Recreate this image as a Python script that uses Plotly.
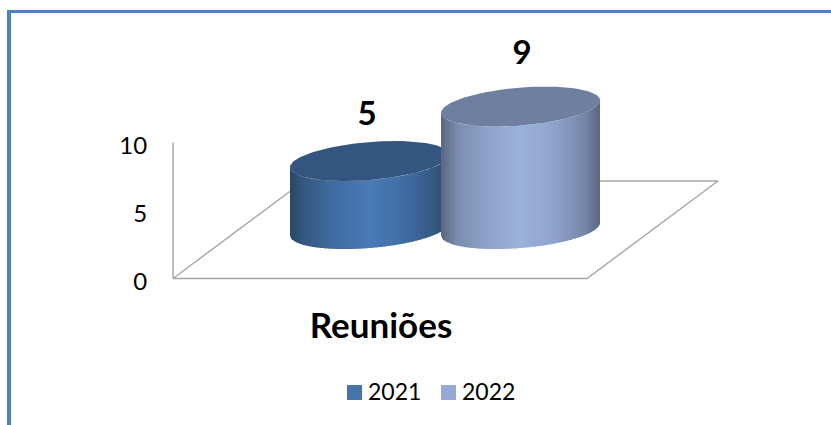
import numpy as np
import plotly.graph_objects as go

# ---- data ----
series_names = ["2021", "2022"]
series_values = [5, 9]
category = "Reuniões"
tick_values = [0, 5, 10]

# ---- styles ----
FONT = "Lato"
W, H = 831, 425
ZERO_PX = 278.5
PX_PER_UNIT = 13.6
GRID = "#A6A6A6"
swatch = ["#4674AA", "#95A9D2"]
top_col = ["#33557F", "#6F7F9F"]
stops = [
    [(0, "#2B4566"), (.08, "#345880"), (.25, "#3F6A9E"), (.5, "#4A7CB8"), (.75, "#3F6A9E"), (.92, "#345880"), (1, "#2B4566")],
    [(0, "#59667F"), (.1, "#7A8DAE"), (.3, "#8FA4CC"), (.5, "#9BB2DC"), (.72, "#8EA2CC"), (.9, "#7787A8"), (1, "#5A6780")],
]
centers = [369.5, 520.5]
A, B, K = 79.5, 19.0, 6.3
BASE_PX = 229.0


def v(px):
    return (ZERO_PX - px) / PX_PER_UNIT


def hex2rgb(h):
    return np.array([int(h[i:i + 2], 16) for i in (1, 3, 5)], float)


def grad(st, t):
    xs = [s[0] for s in st]
    cs = np.array([hex2rgb(s[1]) for s in st])
    return "rgb(%d,%d,%d)" % tuple(np.interp(t, xs, cs[:, i]) for i in range(3))


def edge(x, cx, cy_px):
    """Front (lower on screen) edge of the tilted ellipse at horizontal position x."""
    u = np.clip((x - cx) / A, -1, 1)
    return cy_px + B * np.sqrt(1 - u ** 2) - K * u


fig = go.Figure()

# floor and wall
floor_x = [173, 587, 718, 304, 173]
floor_y = [278.5, 278.5, 181, 181, 278.5]
fig.add_trace(go.Scatter(x=floor_x, y=[v(p) for p in floor_y], mode="lines",
                         line=dict(color=GRID, width=1.4), showlegend=False, hoverinfo="skip"))
fig.add_trace(go.Scatter(x=[173, 173], y=[tick_values[0], tick_values[-1]], mode="lines",
                         line=dict(color=GRID, width=1.4), showlegend=False, hoverinfo="skip"))

# cylinders
for val, cx, st, tc in zip(series_values, centers, stops, top_col):
    top_px = BASE_PX - val * PX_PER_UNIT
    for x0 in np.arange(cx - A, cx + A, 2.0):
        x1 = min(x0 + 3.0, cx + A)
        xs = np.linspace(x0, x1, 4)
        upper = edge(xs, cx, top_px)
        lower = edge(xs, cx, BASE_PX)
        px = np.r_[xs, xs[::-1]]
        py = np.r_[upper, lower[::-1]]
        fig.add_trace(go.Scatter(x=px, y=v(py), mode="lines", fill="toself",
                                 fillcolor=grad(st, (x0 + 1 - cx + A) / (2 * A)),
                                 line=dict(width=0), showlegend=False, hoverinfo="skip"))
    t = np.linspace(0, 2 * np.pi, 121)
    ex = cx + A * np.cos(t)
    ey = top_px + B * np.sin(t) - K * np.cos(t)
    fig.add_trace(go.Scatter(x=ex, y=v(ey), mode="lines", fill="toself", fillcolor=tc,
                             line=dict(width=0), showlegend=False, hoverinfo="skip"))

# data labels
label_x = [367, 522]
label_gap = [44, 50.6]
for val, lx, gap in zip(series_values, label_x, label_gap):
    top_px = BASE_PX - val * PX_PER_UNIT
    fig.add_trace(go.Scatter(x=[lx], y=[v(top_px - gap)], mode="text", text=[str(val)],
                             textposition="middle center",
                             textfont=dict(family=FONT, size=33, color="#000000", weight="bold"),
                             showlegend=False, hoverinfo="skip"))

# category label
fig.add_trace(go.Scatter(x=[381], y=[v(329)], mode="text", text=[category],
                         textposition="middle center",
                         textfont=dict(family=FONT, size=35, color="#000000", weight="bold"),
                         showlegend=False, hoverinfo="skip"))

# legend entries, swatch then label
legend_x = [354.5, 448.5]
for name, c, lx in zip(series_names, swatch, legend_x):
    fig.add_trace(go.Scatter(x=[lx], y=[v(392.5)], mode="markers", name=name,
                             marker=dict(symbol="square", size=15, color=c),
                             showlegend=False, hoverinfo="skip"))
    fig.add_trace(go.Scatter(x=[lx + 13.5], y=[v(394.5)], mode="text", text=[name],
                             textposition="middle right",
                             textfont=dict(family=FONT, size=23, color="#000000"),
                             showlegend=False, hoverinfo="skip"))

fig.update_layout(
    width=W, height=H, margin=dict(l=0, r=0, t=0, b=0),
    paper_bgcolor="white", plot_bgcolor="white",
    font=dict(family=FONT, size=24, color="#000000"),
    xaxis=dict(range=[0, W], visible=False, fixedrange=True),
    yaxis=dict(range=[v(H), v(0)], showgrid=False, zeroline=False, showline=False,
               tickvals=tick_values, ticktext=[str(t) for t in tick_values],
               ticks="outside", ticklen=21, tickcolor="rgba(0,0,0,0)",
               anchor="free", position=173 / W, side="left", ticklabelshift=3,
               tickfont=dict(family=FONT, size=24, color="#000000"), fixedrange=True),
    showlegend=False,
    shapes=[
        dict(type="rect", xref="paper", yref="paper", x0=7 / W, x1=11 / W, y0=0, y1=1 - 10 / H,
             fillcolor="#4F81BD", line_width=0, layer="below"),
        dict(type="rect", xref="paper", yref="paper", x0=7 / W, x1=1, y0=1 - 13 / H, y1=1 - 10 / H,
             fillcolor="#4F81BD", line_width=0, layer="below"),
    ],
)
fig.write_html("out.html", config=dict(displayModeBar=False),
               post_script="document.body.style.margin='0';document.documentElement.style.overflow='hidden';")
